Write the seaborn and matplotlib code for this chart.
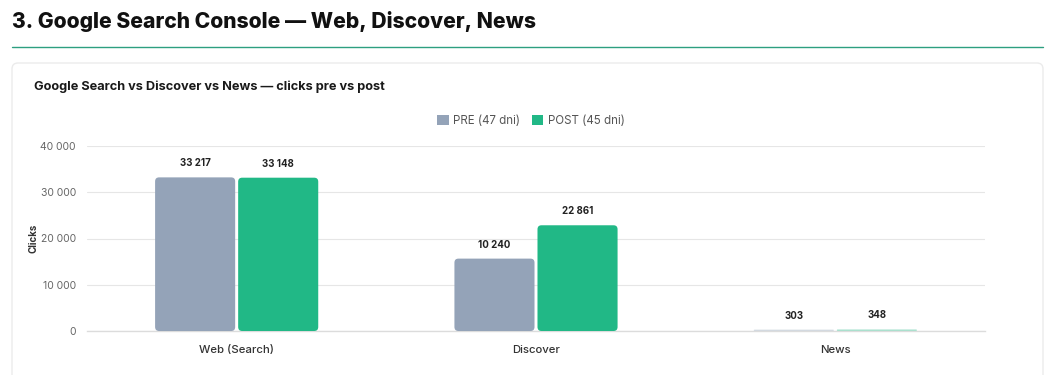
import matplotlib
matplotlib.use("Agg")
import matplotlib.pyplot as plt
import seaborn as sns
import pandas as pd
from matplotlib.patches import FancyBboxPatch
from matplotlib.lines import Line2D
from matplotlib.ticker import FuncFormatter, FixedLocator

# ---- data ----
categories = ["Web (Search)", "Discover", "News"]
pre_values = [33217, 15650, 303]
post_values = [33148, 22861, 348]
pre_labels = ["33 217", "10 240", "303"]
post_labels = ["33 148", "22 861", "348"]
series_names = ["PRE (47 dni)", "POST (45 dni)"]
y_ticks = [0, 10000, 20000, 30000, 40000]

PRE_C = "#94a3b8"
POST_C = "#21b886"

sns.set_theme(style="white")
FONT = ["Inter", "DejaVu Sans"]
plt.rcParams["font.family"] = FONT

W, H = 1060, 375
fig = plt.figure(figsize=(W / 100, H / 100), dpi=100)

# page heading
fig.text(12 / W, 1 - 22 / H, "3. Google Search Console — Web, Discover, News",
         fontsize=15.2, fontweight="heavy", color="#111111", va="center", ha="left")
fig.add_artist(Line2D([12 / W, 1043 / W], [1 - 47 / H, 1 - 47 / H],
                      transform=fig.transFigure, color="#2d9f80", lw=1.0))

# card
card = FancyBboxPatch((12, -20), 1031, H - 63 + 20,
                      boxstyle="round,pad=0,rounding_size=6",
                      transform=None, facecolor="white", edgecolor="#ebebeb",
                      lw=1.0, zorder=-10)
fig.patches.append(card)

fig.text(34 / W, 1 - 87 / H, "Google Search vs Discover vs News — clicks pre vs post",
         fontsize=9.2, fontweight="bold", color="#1a1a1a", va="center", ha="left")

ax = fig.add_axes([87 / W, 1 - 331 / H, (985 - 87) / W, (331 - 146) / H])
ax.set_facecolor("none")
ax.set_zorder(5)

df = pd.DataFrame({
    "category": categories * 2,
    "series": [series_names[0]] * 3 + [series_names[1]] * 3,
    "value": pre_values + post_values,
})
sns.barplot(data=df, x="category", y="value", hue="series", order=categories,
            hue_order=series_names, palette=[PRE_C, POST_C], width=0.555,
            gap=0.036, saturation=1, ax=ax, legend=False, errorbar=None, zorder=3)

ax.set_ylim(0, 40000)
ax.set_xlim(-0.5, 2.5)

# replace bars with rounded ones
px_x = 1 / 299.3           # data units per pixel (x)
px_y = 40000 / 185.0       # data units per pixel (y)
bars = list(ax.patches)
all_labels = pre_labels + post_labels
for i, p in enumerate(bars):
    x0, y0 = p.get_x(), p.get_y()
    w, h = p.get_width(), p.get_height()
    fc = p.get_facecolor()
    p.set_visible(False)
    r = 4 * px_x
    alpha = 1.0
    if h / px_y < 9:
        r = max(h / px_y, 0.2) / 2 * px_x
        alpha = 0.35
    fb = FancyBboxPatch((x0, y0), w, h,
                        boxstyle=f"round,pad=0,rounding_size={r}",
                        mutation_aspect=px_y / px_x,
                        facecolor=fc, edgecolor="none", alpha=alpha, zorder=3)
    ax.add_patch(fb)
    ax.text(x0 + w / 2, h + 14 * px_y, all_labels[i], ha="center", va="center",
            fontsize=7, fontweight="bold", color="#222222", zorder=4)

# axes styling
ax.yaxis.set_major_locator(FixedLocator(y_ticks))
ax.yaxis.set_major_formatter(FuncFormatter(lambda v, _: f"{int(v):,}".replace(",", " ")))
ax.grid(axis="y", color="#e6e6e6", lw=0.8, zorder=0)
ax.grid(axis="x", visible=False)
for s in ["top", "right", "left"]:
    ax.spines[s].set_visible(False)
ax.spines["bottom"].set_color("#dcdcdc")
ax.spines["bottom"].set_linewidth(1.0)
ax.tick_params(axis="y", length=0, pad=8, labelsize=7.5, labelcolor="#666666")
ax.tick_params(axis="x", which="major", length=0, pad=10, labelsize=8.2,
               labelcolor="#333333")
for t in ax.get_xticklabels():
    t.set_fontweight("medium")
ax.set_xticks([-0.5, 0.5, 1.5, 2.5], minor=True)
ax.tick_params(axis="x", which="minor", length=7, width=0.8, color="#e0e0e0")
ax.set_xlabel("")
ax.set_ylabel("Clicks", fontsize=7, fontweight="bold", color="#333333")
ax.yaxis.set_label_coords(-(87 - 39) / (985 - 87), 0.5)

# legend
handles = [plt.Rectangle((0, 0), 1, 1, fc=PRE_C, ec="none"),
           plt.Rectangle((0, 0), 1, 1, fc=POST_C, ec="none")]
fig.legend(handles, series_names, loc="center", bbox_to_anchor=(531 / W, 1 - 121 / H),
           ncol=2, frameon=False, fontsize=8.3, handlelength=1.0, handleheight=1.0,
           handletextpad=0.4, columnspacing=1.0, labelcolor="#555555")

fig.savefig("out.png", dpi=100)
